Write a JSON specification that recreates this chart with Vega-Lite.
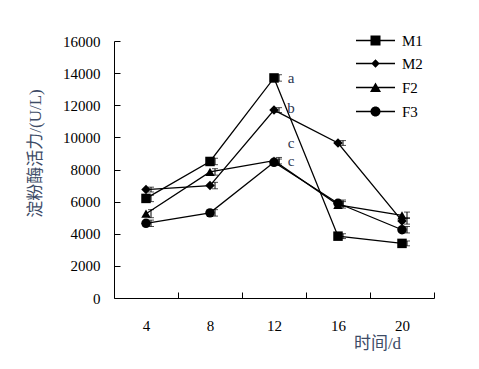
{
  "$schema": "https://vega.github.io/schema/vega-lite/v6.json",
  "width": 320,
  "height": 257,
  "autosize": "none",
  "padding": {"left": 114, "top": 41, "right": 45, "bottom": 71},
  "background": "white",
  "config": {"view": {"stroke": null}, "font": "Liberation Serif"},
  "data": {
    "values": [
      {"t": 4, "series": "M1", "v": 6200, "err": 200},
      {"t": 8, "series": "M1", "v": 8500, "err": 200},
      {"t": 12, "series": "M1", "v": 13700, "err": 200},
      {"t": 16, "series": "M1", "v": 3850, "err": 150},
      {"t": 20, "series": "M1", "v": 3400, "err": 150},
      {"t": 4, "series": "M2", "v": 6750, "err": 150},
      {"t": 8, "series": "M2", "v": 7000, "err": 200},
      {"t": 12, "series": "M2", "v": 11700, "err": 150},
      {"t": 16, "series": "M2", "v": 9650, "err": 150},
      {"t": 20, "series": "M2", "v": 4800, "err": 200},
      {"t": 4, "series": "F2", "v": 5250, "err": 250},
      {"t": 8, "series": "F2", "v": 7850, "err": 200},
      {"t": 12, "series": "F2", "v": 8550, "err": 200},
      {"t": 16, "series": "F2", "v": 5800, "err": 200},
      {"t": 20, "series": "F2", "v": 5150, "err": 200},
      {"t": 4, "series": "F3", "v": 4650, "err": 200},
      {"t": 8, "series": "F3", "v": 5300, "err": 200},
      {"t": 12, "series": "F3", "v": 8450, "err": 200},
      {"t": 16, "series": "F3", "v": 5900, "err": 200},
      {"t": 20, "series": "F3", "v": 4250, "err": 200}
    ]
  },
  "encoding": {
    "x": {
      "field": "t",
      "type": "quantitative",
      "scale": {"domain": [2, 22], "nice": false, "zero": false},
      "axis": {
        "values": [4, 8, 12, 16, 20],
        "grid": false,
        "tickSize": -6,
        "tickOffset": 32,
        "labelOffset": -32,
        "labelPadding": 26,
        "labelFontSize": 15,
        "labelColor": "black",
        "labelFont": "Liberation Serif",
        "domainColor": "black",
        "tickColor": "black",
        "title": "时间/d",
        "titleFont": "Liberation Serif, Noto Sans CJK SC",
        "titleFontSize": 17,
        "titleFontWeight": "normal",
        "titleColor": "#3d4b66",
        "titleX": 263,
        "titleY": 45,
        "titleAlign": "center",
        "titleBaseline": "middle"
      }
    },
    "y": {
      "field": "v",
      "type": "quantitative",
      "scale": {"domain": [0, 16000], "nice": false},
      "axis": {
        "values": [0, 2000, 4000, 6000, 8000, 10000, 12000, 14000, 16000],
        "format": "d",
        "grid": false,
        "tickSize": -6,
        "labelPadding": 20,
        "labelFontSize": 15,
        "labelColor": "black",
        "labelFont": "Liberation Serif",
        "domainColor": "black",
        "tickColor": "black",
        "title": "淀粉酶活力/(U/L)",
        "titleFont": "Liberation Serif, Noto Sans CJK SC",
        "titleFontSize": 17,
        "titleFontWeight": "normal",
        "titleColor": "#3d4b66",
        "titleX": -79,
        "titleY": 112,
        "titleAngle": -90,
        "titleAlign": "center",
        "titleBaseline": "middle"
      }
    }
  },
  "layer": [
    {
      "mark": {"type": "line", "color": "black", "strokeWidth": 1.3},
      "encoding": {"detail": {"field": "series", "type": "nominal"}}
    },
    {
      "mark": {
        "type": "errorbar",
        "color": "black",
        "ticks": {"size": 6, "xOffset": 5, "strokeWidth": 1},
        "rule": {"xOffset": 5, "strokeWidth": 1}
      },
      "encoding": {"yError": {"field": "err"}}
    },
    {
      "mark": {"type": "point", "filled": true, "color": "black", "opacity": 1, "size": 90},
      "encoding": {
        "shape": {
          "field": "series",
          "type": "nominal",
          "scale": {"domain": ["M1", "M2", "F2", "F3"], "range": ["square", "diamond", "triangle-up", "circle"]},
          "legend": null
        }
      }
    },
    {
      "mark": {"type": "point", "filled": true, "color": "black", "opacity": 0, "size": 100},
      "encoding": {
        "shape": {
          "field": "series",
          "type": "nominal",
          "scale": {
            "domain": ["M1", "M2", "F2", "F3"],
            "range": [
              "M-3.9,-0.13H3.9V0.13H-3.9ZM-1,-1H1V1H-1Z",
              "M-3.9,-0.13H3.9V0.13H-3.9ZM0,-0.85L0.85,0L0,0.85L-0.85,0Z",
              "M-3.9,-0.13H3.9V0.13H-3.9ZM0,-1L1.1,0.9H-1.1Z",
              "M-3.9,-0.13H3.9V0.13H-3.9ZM-1,0A1,1,0,1,1,1,0A1,1,0,1,1,-1,0Z"
            ]
          },
          "legend": {
            "title": null,
            "orient": "none",
            "legendX": 254,
            "legendY": -8,
            "padding": 0,
            "rowPadding": 7,
            "labelFont": "Liberation Serif",
            "labelFontSize": 15,
            "labelColor": "black",
            "labelOffset": 19,
            "symbolSize": 100,
            "symbolFillColor": "black",
            "symbolOpacity": 1
          }
        }
      }
    },
    {
      "data": {
        "values": [
          {"t": 12, "v": 13700, "lab": "a"},
          {"t": 12, "v": 11830, "lab": "b"},
          {"t": 12, "v": 9620, "lab": "c"},
          {"t": 12, "v": 8560, "lab": "c"}
        ]
      },
      "mark": {"type": "text", "xOffset": 17, "fontSize": 15, "font": "Liberation Serif", "color": "#2b3650", "align": "center", "baseline": "middle"},
      "encoding": {"text": {"field": "lab", "type": "nominal"}}
    }
  ],
  "resolve": {"scale": {"shape": "independent"}, "legend": {"shape": "independent"}}
}
